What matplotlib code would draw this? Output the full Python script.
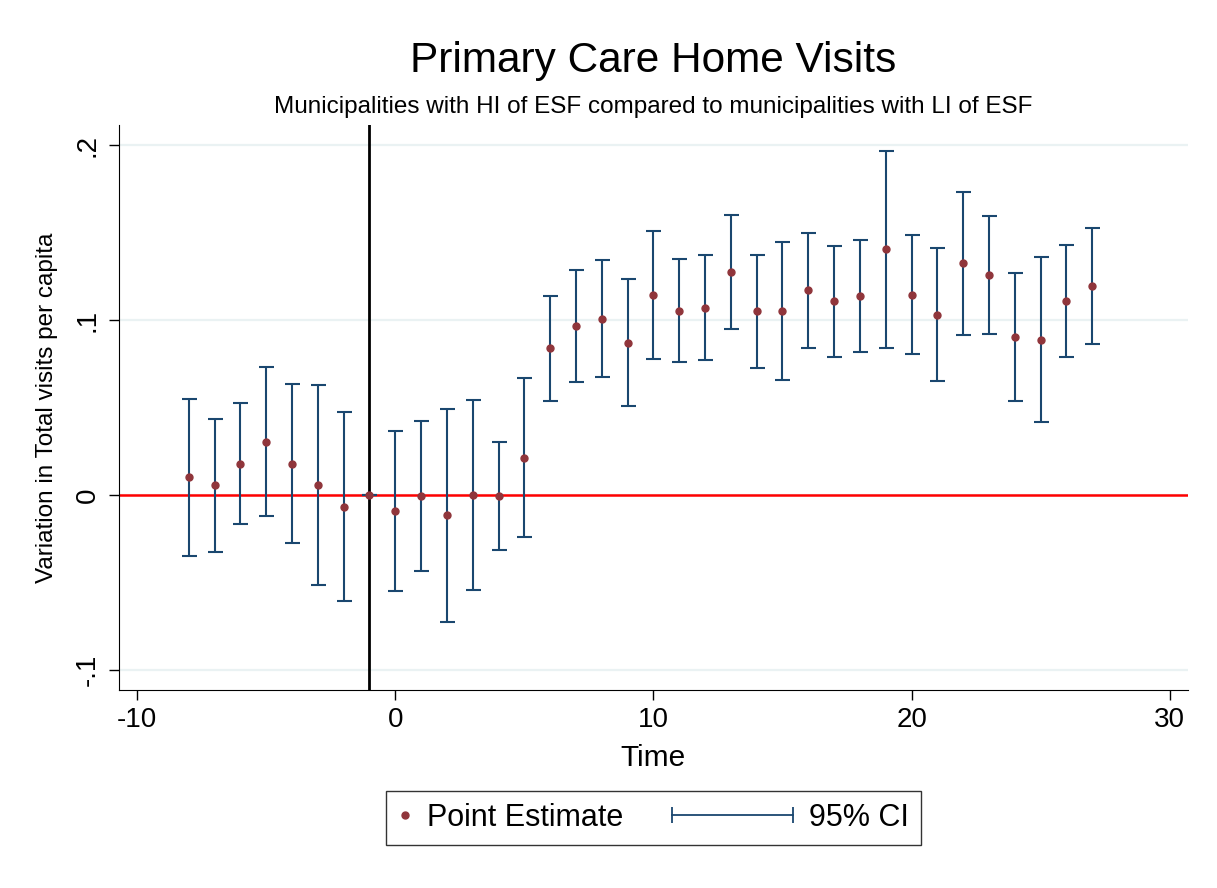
import numpy as np
import matplotlib
matplotlib.use("Agg")
import matplotlib.pyplot as plt
from matplotlib.lines import Line2D
from matplotlib.legend_handler import HandlerLine2D

plt.rcParams["font.family"] = ["Liberation Sans", "DejaVu Sans"]
plt.rcParams["axes.unicode_minus"] = False

# event time relative to treatment
time = [-8, -7, -6, -5, -4, -3, -2, -1, 0, 1, 2, 3, 4, 5, 6, 7, 8, 9, 10,
        11, 12, 13, 14, 15, 16, 17, 18, 19, 20, 21, 22, 23, 24, 25, 26, 27]

estimate = [0.0101, 0.0055, 0.0179, 0.0303, 0.0179, 0.0055, -0.0067, 0.0,
            -0.0091, -0.0004, -0.0116, 0.0002, -0.0006, 0.0213, 0.0838, 0.0968,
            0.1008, 0.0872, 0.1143, 0.1053, 0.1072, 0.1276, 0.1050, 0.1050,
            0.1170, 0.1107, 0.1137, 0.1404, 0.1145, 0.1032, 0.1324, 0.1257,
            0.0905, 0.0888, 0.1109, 0.1194]

ci_low = [-0.0347, -0.0326, -0.0168, -0.0122, -0.0274, -0.0514, -0.0606, 0.0,
          -0.0549, -0.0436, -0.0728, -0.0541, -0.0314, -0.0238, 0.0537, 0.0646,
          0.0672, 0.0507, 0.0777, 0.0758, 0.0770, 0.0952, 0.0724, 0.0655,
          0.0840, 0.0790, 0.0819, 0.0838, 0.0808, 0.0653, 0.0914, 0.0920,
          0.0537, 0.0417, 0.0790, 0.0863]

ci_high = [0.0547, 0.0436, 0.0526, 0.0730, 0.0634, 0.0629, 0.0474, 0.0,
           0.0364, 0.0425, 0.0493, 0.0543, 0.0301, 0.0667, 0.1139, 0.1288,
           0.1343, 0.1234, 0.1509, 0.1350, 0.1375, 0.1602, 0.1373, 0.1444,
           0.1499, 0.1423, 0.1457, 0.1968, 0.1484, 0.1410, 0.1731, 0.1594,
           0.1272, 0.1360, 0.1427, 0.1528]

xticks = [-10, 0, 10, 20, 30]
yticks = [-0.1, 0, 0.1, 0.2]
ytick_labels = ["-.1", "0", ".1", ".2"]

navy = "#1a476f"
maroon = "#90353b"

est = np.array(estimate)
lo = np.array(ci_low)
hi = np.array(ci_high)

fig = plt.figure(figsize=(12.17, 8.88), dpi=100)
ax = fig.add_axes([0.0978, 0.223, 0.8782, 0.636])

ax.set_xlim(-10.7, 30.7)
ax.set_ylim(-0.1114, 0.2114)

# reference lines
ax.axhline(0, color="red", lw=1.8, zorder=2)
ax.axvline(-1, color="black", lw=2.0, zorder=3)

ax.errorbar(time, est, yerr=[est - lo, hi - est], fmt="none", ecolor=navy,
            elinewidth=1.5, capsize=5.4, capthick=1.5, zorder=4)
ax.plot(time, est, "o", color=maroon, markersize=5, zorder=5)

ax.set_xticks(xticks)
ax.set_yticks(yticks)
ax.set_yticklabels(ytick_labels, rotation=90, va="center")
ax.tick_params(axis="both", labelsize=20, length=7, width=1, direction="out")
ax.tick_params(axis="x", pad=5)
ax.tick_params(axis="y", pad=6)
ax.grid(axis="y", color="#eaf2f3", lw=1.6, zorder=0)
ax.set_axisbelow(True)
for side in ["top", "right"]:
    ax.spines[side].set_visible(False)

ax.set_xlabel("Time", fontsize=21.5, labelpad=8)
ax.set_ylabel("Variation in Total visits per capita", fontsize=17.5, labelpad=12)

fig.text(0.537, 0.931, "Primary Care Home Visits", fontsize=30.5,
         ha="center", va="center")
fig.text(0.537, 0.880,
         "Municipalities with HI of ESF compared to municipalities with LI of ESF",
         fontsize=17.5, ha="center", va="center")


class CIHandler:
    # horizontal bar with end caps, drawn leftward from the label
    def legend_artist(self, legend, orig_handle, fontsize, handlebox):
        w, h = handlebox.width, handlebox.height
        span = 3.95 * fontsize
        line = Line2D([w - span, w], [h / 2, h / 2], color=navy, lw=1.3,
                      marker="|", markersize=11, markeredgewidth=1.3,
                      transform=handlebox.get_transform())
        handlebox.add_artist(line)
        return line


pt_handle = Line2D([], [], ls="none", marker="o", color=maroon, markersize=5)
ci_handle = Line2D([], [], color=navy)

leg = fig.legend([pt_handle, ci_handle], ["Point Estimate", "95% CI"],
                 loc="center", bbox_to_anchor=(0.537, 0.079), ncol=2,
                 fontsize=22, frameon=True, fancybox=False, edgecolor="black",
                 handlelength=0.4, handletextpad=0.52, columnspacing=5.15,
                 borderpad=0.4, borderaxespad=0,
                 handler_map={ci_handle: CIHandler(),
                              pt_handle: HandlerLine2D(numpoints=1)})
leg.get_frame().set_linewidth(1.0)

fig.savefig("out.png", dpi=100, facecolor="white")
